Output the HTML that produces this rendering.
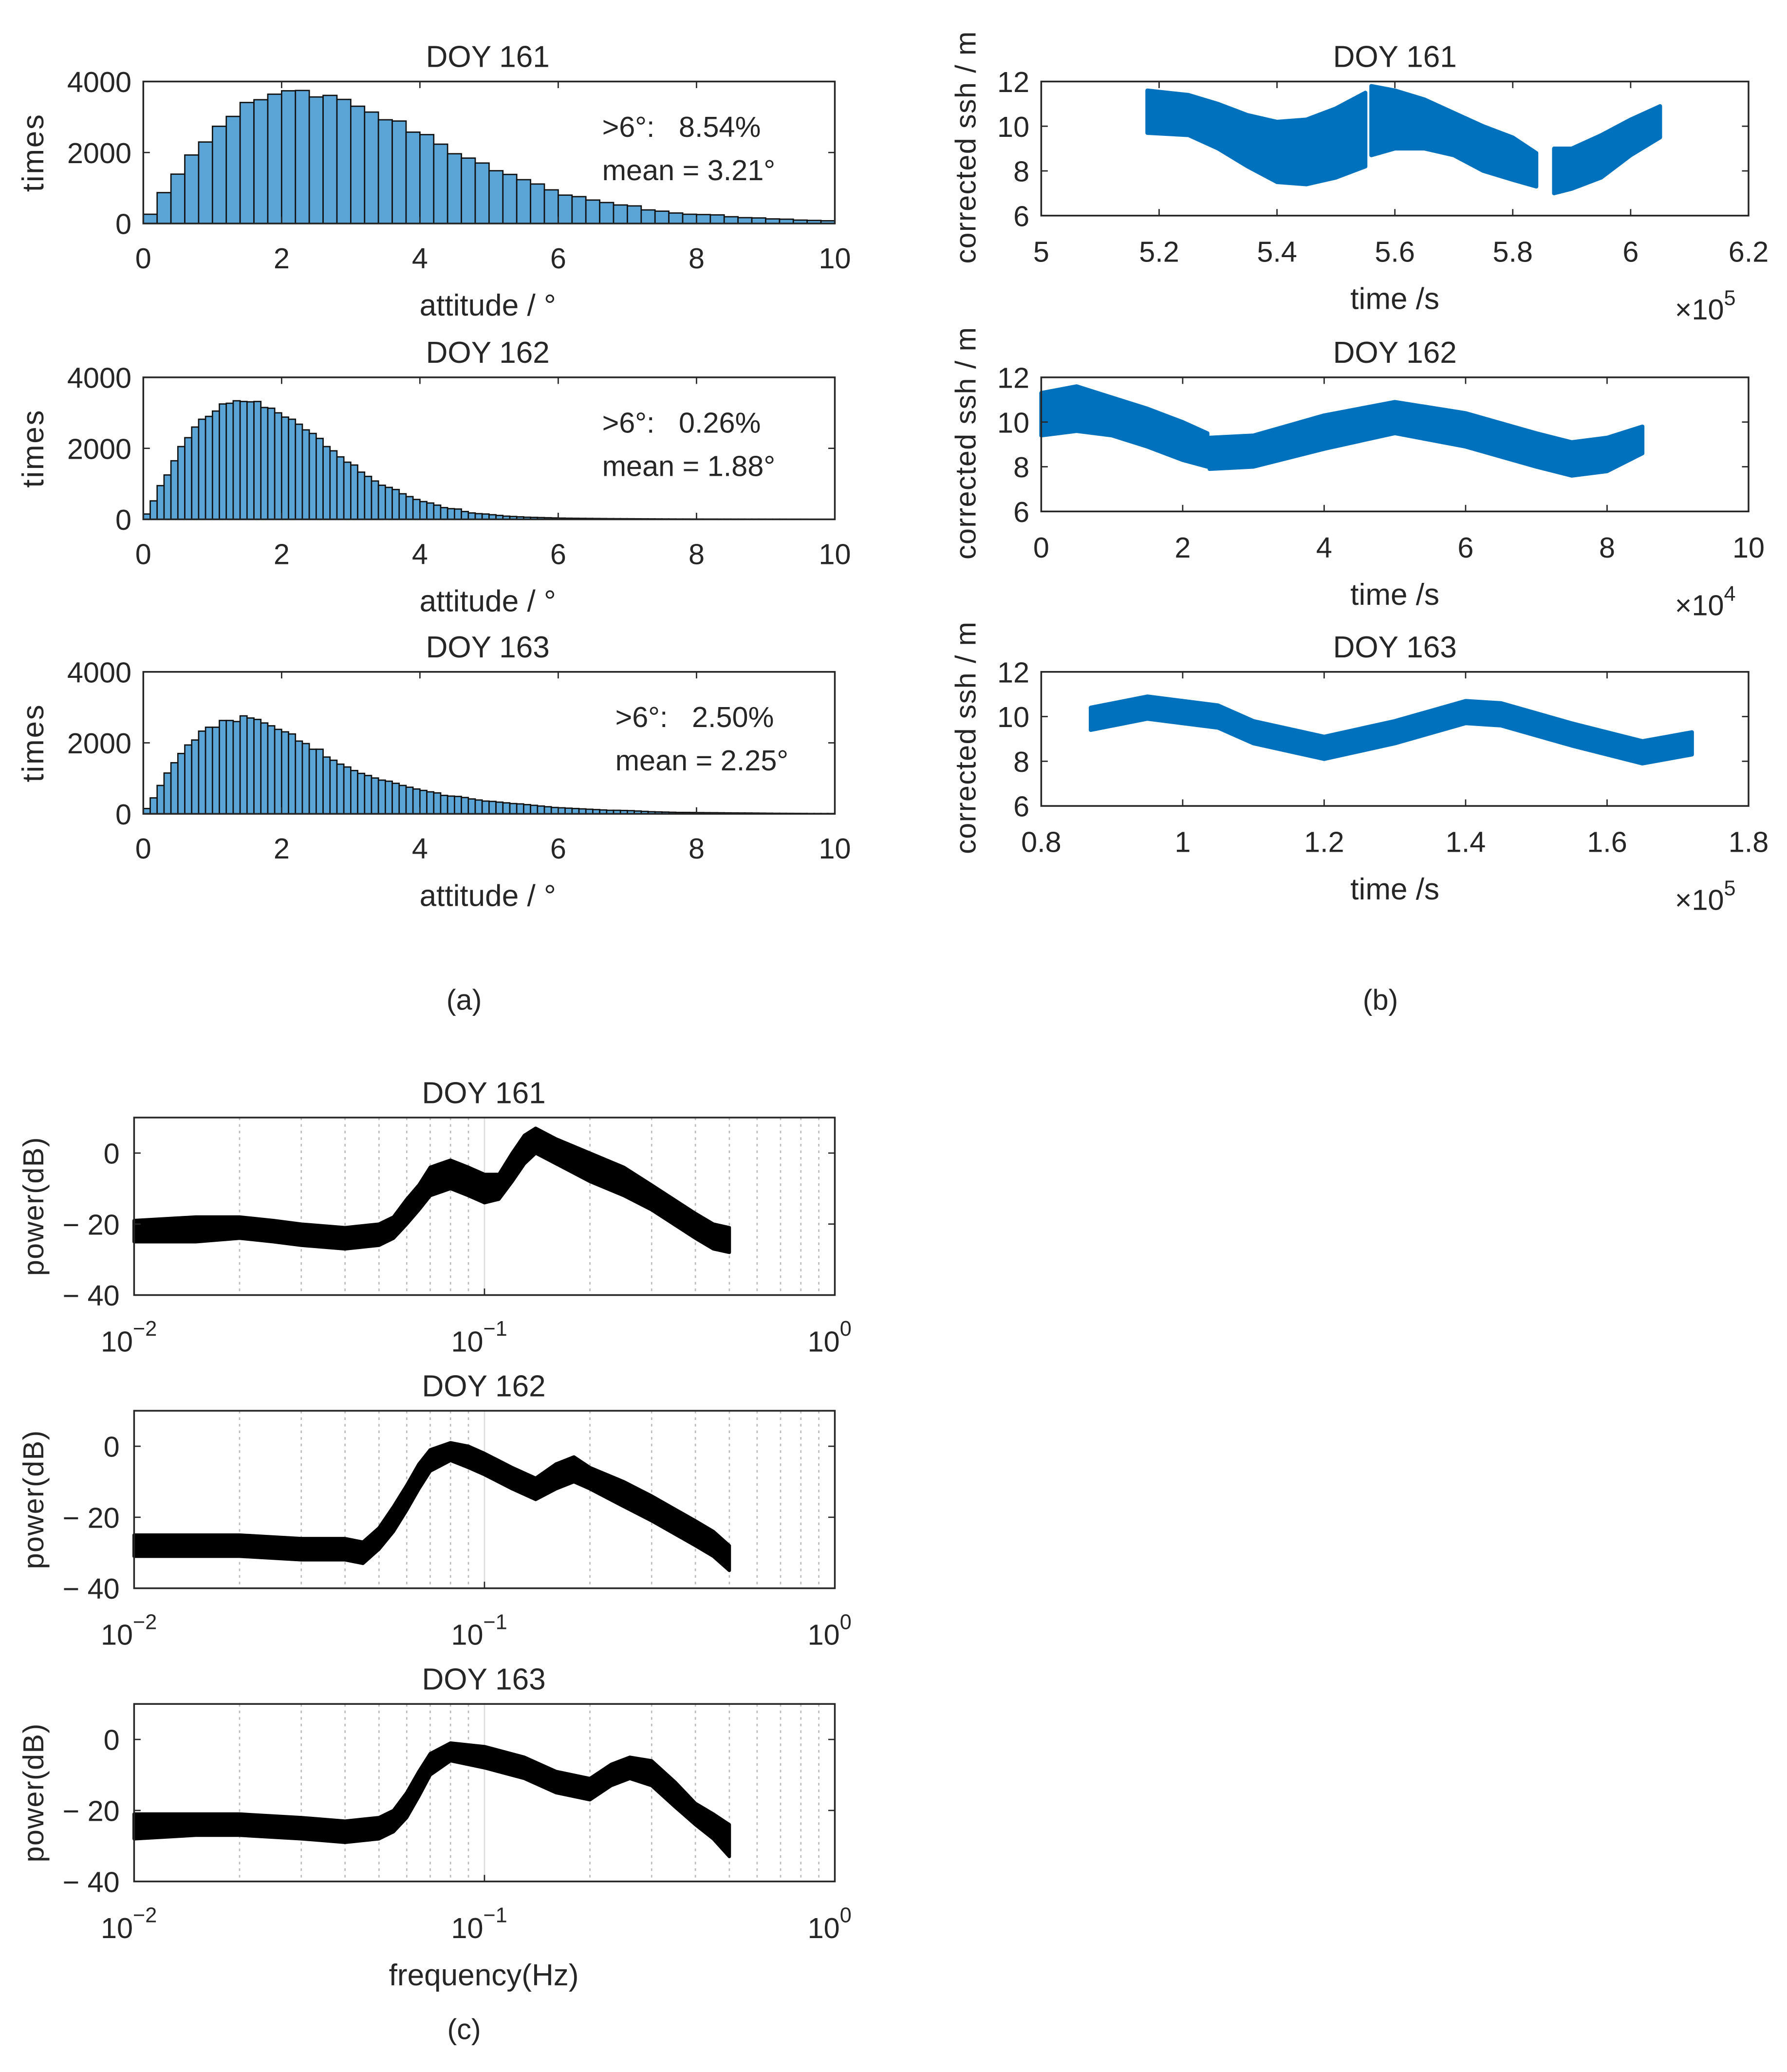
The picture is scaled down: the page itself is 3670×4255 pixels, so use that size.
<!DOCTYPE html>
<html><head><meta charset="utf-8">
<style>
html,body{margin:0;padding:0;background:#fff;}
svg{display:block;}
text{font-family:"Liberation Sans",Arial,sans-serif;fill:#262626;}
</style></head>
<body>
<svg id="fig" xmlns="http://www.w3.org/2000/svg" width="3670" height="4255" viewBox="0 0 1359.26 1575.93">
<rect width="1359.26" height="1575.93" fill="#fff"/>
</svg>
<script>
// ---------- Histogram data (a) ----------
const hist161 = [261,870,1391,1930,2296,2739,3017,3409,3487,3643,3739,3748,3565,3609,3496,3304,3139,2922,2887,2574,2504,2235,1965,1843,1704,1487,1383,1235,1113,948,800,757,661,591,522,496,383,348,296,261,252,243,191,165,157,130,122,96,87,78];
const hist162 = [150,520,950,1250,1650,2050,2300,2600,2820,2900,3050,3250,3270,3340,3320,3310,3320,3150,3130,3000,2880,2820,2680,2520,2420,2280,2050,1930,1760,1610,1530,1330,1210,1080,960,900,840,720,640,560,500,460,400,330,300,290,220,180,160,150,130,110,90,80,70,60,55,50,45,40,35,32,30,28,26,24,22,20,19,18,17,16,15,14,13,12,11,10,10,9,9,8,8,7,7,6,6,5,5,5,4,4,4,3,3,3,2,2,2,2];
const hist163 = [150,450,800,1150,1440,1700,1940,2080,2330,2440,2440,2630,2630,2600,2760,2700,2660,2560,2480,2380,2310,2250,2050,1980,1820,1820,1600,1510,1400,1320,1220,1140,1080,1010,950,920,860,800,750,700,660,620,590,520,500,490,460,420,390,360,350,330,310,290,280,260,240,220,200,180,170,160,150,140,130,120,110,100,100,95,90,80,70,60,55,50,45,40,40,38,35,33,32,30,28,26,25,24,22,20,18,16,15,14,13,12,10,10,10,10];
const histTitles = ["DOY 161","DOY 162","DOY 163"];
const histPct = ["8.54%","0.26%","2.50%"];
const histMean = ["3.21°","1.88°","2.25°"];
const histXTicks = [0,2,4,6,8,10];
const histYTicks = [0,2000,4000];

// ---------- Scatter bands (b): time, lower, upper ----------
const s161t = [[5.18,5.25,5.3,5.35,5.4,5.45,5.5,5.55],[5.56,5.6,5.65,5.7,5.75,5.8,5.84],[5.87,5.9,5.95,6.0,6.05]];
const s161lo = [[9.7,9.6,9.0,8.2,7.5,7.4,7.7,8.2],[8.7,9.0,9.0,8.7,8.0,7.6,7.3],[7.0,7.2,7.7,8.7,9.5]];
const s161hi = [[11.6,11.4,11.0,10.5,10.2,10.3,10.8,11.5],[11.8,11.6,11.2,10.6,10.0,9.5,8.8],[9.0,9.0,9.6,10.3,10.9]];
const s162t = [[0,0.5,1,1.5,2,2.35],[2.38,3,4,5,6,7,7.5,8,8.5]];
const s162lo = [[9.4,9.6,9.4,8.9,8.3,8.0],[7.9,8.0,8.8,9.5,8.9,8.0,7.6,7.8,8.6]];
const s162hi = [[11.3,11.6,11.1,10.6,10.0,9.5],[9.3,9.4,10.3,10.9,10.4,9.5,9.1,9.3,9.8]];
const s163t = [[0.87,0.95,1.05,1.1,1.2,1.3,1.4,1.45,1.55,1.65,1.72]];
const s163lo = [[9.4,9.9,9.5,8.8,8.1,8.8,9.7,9.6,8.7,7.9,8.3]];
const s163hi = [[10.4,10.9,10.5,9.8,9.1,9.8,10.7,10.6,9.7,8.9,9.3]];
const sTitles = ["DOY 161","DOY 162","DOY 163"];
const sXTicks = [[5,5.2,5.4,5.6,5.8,6,6.2],[0,2,4,6,8,10],[0.8,1,1.2,1.4,1.6,1.8]];
const sXExp = ["5","4","5"];
const sYTicks = [6,8,10,12];

// ---------- PSD bands (c): freq, lower, upper ----------
const p161f = [0.01,0.015,0.02,0.025,0.03,0.04,0.05,0.055,0.06,0.065,0.07,0.08,0.09,0.1,0.11,0.12,0.13,0.14,0.16,0.2,0.25,0.3,0.4,0.45,0.5];
const p161lo = [-25,-25,-24,-25,-26,-27,-26,-24,-20,-16,-12,-10,-12,-14,-13,-8,-3,0,-3,-8,-12,-16,-24,-27,-28];
const p161hi = [-19,-18,-18,-19,-20,-21,-20,-18,-13,-9,-4,-2,-4,-6,-6,0,5,7,4,0,-4,-9,-17,-20,-21];
const p162f = [0.01,0.015,0.02,0.03,0.04,0.045,0.05,0.055,0.06,0.065,0.07,0.08,0.09,0.1,0.12,0.14,0.16,0.18,0.2,0.25,0.3,0.4,0.45,0.5];
const p162lo = [-31,-31,-31,-32,-32,-33,-29,-24,-18,-12,-7,-4,-6,-8,-12,-15,-12,-10,-12,-17,-21,-28,-31,-35];
const p162hi = [-25,-25,-25,-26,-26,-27,-23,-17,-11,-5,-1,1,0,-2,-6,-9,-5,-3,-6,-10,-14,-21,-24,-28];
const p163f = [0.01,0.015,0.02,0.03,0.04,0.05,0.055,0.06,0.065,0.07,0.08,0.1,0.13,0.16,0.2,0.23,0.26,0.3,0.35,0.4,0.45,0.5];
const p163lo = [-28,-27,-27,-28,-29,-28,-26,-22,-16,-10,-6,-8,-11,-15,-17,-13,-11,-13,-19,-24,-28,-33];
const p163hi = [-21,-21,-21,-22,-23,-22,-20,-15,-9,-4,-1,-2,-5,-9,-11,-7,-5,-6,-12,-18,-21,-24];
const pTitles = ["DOY 161","DOY 162","DOY 163"];
const pYTicks = [-40,-20,0];

const NS = "http://www.w3.org/2000/svg";
const svg = document.getElementById("fig");
function mk(tag, attrs, parent){
  const e = document.createElementNS(NS, tag);
  for (const k in attrs) e.setAttribute(k, attrs[k]);
  (parent||svg).appendChild(e);
  return e;
}
function txt(s, x, y, size, anchor, parent){
  const t = mk("text", {x:x, y:y, "font-size":size, "text-anchor":anchor||"middle"}, parent);
  t.textContent = s;
  return t;
}
const TK = 22, LB = 23, TT = 23;

// ----- (a) histograms -----
const hData = [hist161, hist162, hist163];
const hTops = [62, 287, 511];
const HL = 109, HR = 635, HH = 108;
hData.forEach((vals, i) => {
  const g = mk("g", {});
  
  
  const top = hTops[i], bot = top + HH;
  const xs = v => HL + v/10*(HR-HL);
  const ys = v => bot - v/4000*HH;
  const w = 10/vals.length;
  vals.forEach((v, k) => {
    const r = mk("rect", {x:xs(k*w), y:ys(v), width:xs((k+1)*w)-xs(k*w), height:bot-ys(v), fill:"#5aa4d6", stroke:"#111", "stroke-width":1}, g);
    
    
  });
  mk("rect", {x:HL, y:top, width:HR-HL, height:HH, fill:"none", stroke:"#262626", "stroke-width":1.3}, g);
  histXTicks.forEach(t => {
    mk("line", {x1:xs(t), x2:xs(t), y1:top, y2:top+5, stroke:"#262626"}, g);
    mk("line", {x1:xs(t), x2:xs(t), y1:bot, y2:bot-5, stroke:"#262626"}, g);
    txt(String(t), xs(t), bot+34, TK, "middle", g);
  });
  histYTicks.forEach(t => {
    mk("line", {x1:HL, x2:HL+5, y1:ys(t), y2:ys(t), stroke:"#262626"}, g);
    mk("line", {x1:HR, x2:HR-5, y1:ys(t), y2:ys(t), stroke:"#262626"}, g);
    txt(String(t), HL-9, ys(t)+8, TK, "end", g);
  });
  txt(histTitles[i], 371, top-11, TT, "middle", g);
  txt("attitude / °", 371, bot+70, LB, "middle", g);
  const yl = txt("times", 0, 0, LB, "middle", g);
  yl.setAttribute("letter-spacing", "1");
  yl.setAttribute("transform", `translate(33,${top+HH/2}) rotate(-90)`);
  const dx = i===2 ? 10 : 0;
  txt(">6°:\u00a0\u00a0\u00a0" + histPct[i], 458+dx, top+42, TK, "start", g);
  txt("mean = " + histMean[i], 458+dx, top+75, TK, "start", g);
});
const la = txt("(a)", 353, 768, 22, "middle"); la.setAttribute("font-family","Liberation Serif,serif");

// ----- (b) scatter bands -----
const sT = [s161t, s162t, s163t], sLo = [s161lo, s162lo, s163lo], sHi = [s161hi, s162hi, s163hi];
const sTops = [62, 287, 511];
const SL = 792, SR = 1330, SH = 102;
sT.forEach((segs, i) => {
  const g = mk("g", {});
  
  
  const top = sTops[i], bot = top + SH;
  const tk = sXTicks[i];
  const x0 = tk[0], x1 = tk[tk.length-1];
  const xs = v => SL + (v-x0)/(x1-x0)*(SR-SL);
  const ys = v => bot - (v-6)/6*SH;
  segs.forEach((ts, s) => {
    const lo = sLo[i][s], hi = sHi[i][s];
    let pts = ts.map((t,k) => xs(t)+","+ys(hi[k]));
    pts = pts.concat(ts.slice().reverse().map((t,k) => xs(t)+","+ys(lo[ts.length-1-k])));
    const p = mk("polygon", {points:pts.join(" "), fill:"#0072BD", stroke:"#0072BD", "stroke-width":3, "stroke-linejoin":"round"}, g);
    
    
  });
  mk("rect", {x:SL, y:top, width:SR-SL, height:SH, fill:"none", stroke:"#262626", "stroke-width":1.3}, g);
  tk.forEach(t => {
    mk("line", {x1:xs(t), x2:xs(t), y1:top, y2:top+5, stroke:"#262626"}, g);
    mk("line", {x1:xs(t), x2:xs(t), y1:bot, y2:bot-5, stroke:"#262626"}, g);
    txt(String(t), xs(t), bot+35, TK, "middle", g);
  });
  sYTicks.forEach(t => {
    mk("line", {x1:SL, x2:SL+5, y1:ys(t), y2:ys(t), stroke:"#262626"}, g);
    mk("line", {x1:SR, x2:SR-5, y1:ys(t), y2:ys(t), stroke:"#262626"}, g);
    txt(String(t), SL-9, ys(t)+8, TK, "end", g);
  });
  txt(sTitles[i], 1061, top-11, TT, "middle", g);
  txt("time /s", 1061, bot+71, LB, "middle", g);
  const ex = txt("×10", 1274, bot+79, TK, "start", g);
  const sup = mk("tspan", {dy:-11, "font-size":16}, ex); sup.textContent = sXExp[i];
  const yl = txt("corrected ssh / m", 0, 0, 22, "middle", g);
  yl.setAttribute("letter-spacing", "0.5");
  yl.setAttribute("transform", `translate(742,${top+50}) rotate(-90)`);
});
const lb = txt("(b)", 1050, 768, 22, "middle"); lb.setAttribute("font-family","Liberation Serif,serif");

// ----- (c) PSD -----
const pF = [p161f, p162f, p163f], pLo = [p161lo, p162lo, p163lo], pHi = [p161hi, p162hi, p163hi];
const pTops = [850, 1073, 1296];
const PL = 102, PR = 635, PH = 135;
pF.forEach((fs, i) => {
  const g = mk("g", {});
  
  
  const top = pTops[i], bot = top + PH;
  const xs = f => PL + (Math.log10(f)+2)/2*(PR-PL);
  const ys = v => bot - (v+40)/50*PH;
  for (const dec of [0.01, 0.1]) for (let m=2; m<=9; m++){
    mk("line", {x1:xs(dec*m), x2:xs(dec*m), y1:top, y2:bot, stroke:"#bbb", "stroke-width":1, "stroke-dasharray":"2,3"}, g);
  }
  mk("line", {x1:xs(0.1), x2:xs(0.1), y1:top, y2:bot, stroke:"#ddd", "stroke-width":1}, g);
  const lo = pLo[i], hi = pHi[i];
  let pts = fs.map((f,k) => xs(f)+","+ys(hi[k]));
  pts = pts.concat(fs.slice().reverse().map((f,k) => xs(f)+","+ys(lo[fs.length-1-k])));
  const p = mk("polygon", {points:pts.join(" "), fill:"#000", stroke:"#000", "stroke-width":2.5, "stroke-linejoin":"round"}, g);
  
  
  mk("rect", {x:PL, y:top, width:PR-PL, height:PH, fill:"none", stroke:"#262626", "stroke-width":1.3}, g);
  [[0.01,"−2"],[0.1,"−1"],[1,"0"]].forEach(([f,e]) => {
    mk("line", {x1:xs(f), x2:xs(f), y1:bot, y2:bot-5, stroke:"#262626"}, g);
    const t = txt("10", xs(f)-4, bot+43, TK, "middle", g);
    const s = mk("tspan", {dy:-12, "font-size":16}, t); s.textContent = e;
  });
  pYTicks.forEach(t => {
    mk("line", {x1:PL, x2:PL+5, y1:ys(t), y2:ys(t), stroke:"#262626"}, g);
    mk("line", {x1:PR, x2:PR-5, y1:ys(t), y2:ys(t), stroke:"#262626"}, g);
    txt(t<0 ? "− "+(-t) : String(t), PL-11, ys(t)+8, TK, "end", g);
  });
  txt(pTitles[i], 368, top-11, TT, "middle", g);
  const yl = txt("power(dB)", 0, 0, 22, "middle", g);
  yl.setAttribute("letter-spacing", "0.5");
  yl.setAttribute("transform", `translate(33,${top+PH/2}) rotate(-90)`);
});
txt("frequency(Hz)", 368, 1510, LB, "middle");
const lc = txt("(c)", 353, 1551, 22, "middle"); lc.setAttribute("font-family","Liberation Serif,serif");
</script>
</body></html>
